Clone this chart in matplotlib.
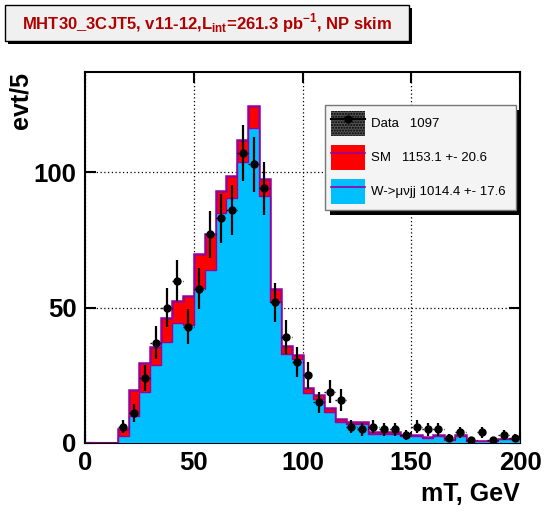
import numpy as np
import matplotlib
matplotlib.use("Agg")
import matplotlib.pyplot as plt
from matplotlib.patches import Rectangle, Patch
from matplotlib.lines import Line2D

# mT bins, 5 GeV wide, 0..200
edges = np.arange(0, 205, 5)

# stacked SM total (red) and W->munujj (blue), per bin starting at 0
sm = [0, 0, 0, 5.2, 19.4, 29.5, 35.3, 46.0, 52.5, 54.2, 69.9, 77.0, 93.0, 98.6,
      111.8, 124.4, 97.5, 56.8, 35.9, 32.6, 20.4, 17.7, 13.0, 9.0, 7.7, 7.9,
      4.0, 4.0, 4.0, 3.0, 3.0, 2.2, 3.0, 1.2, 3.0, 0.8, 0.8, 0.8, 1.5, 1.5]
wjets = [0, 0, 0, 2.6, 10.1, 18.8, 28.7, 37.3, 44.4, 43.7, 57.2, 63.8, 84.8, 90.5,
         103.9, 116.3, 91.1, 51.9, 32.8, 30.9, 18.6, 16.1, 11.6, 7.9, 6.9, 7.0,
         3.4, 3.4, 3.4, 2.7, 2.7, 1.9, 2.7, 1.0, 2.7, 0.6, 0.6, 0.6, 1.3, 1.3]

# data counts for bins 15..200
data_centers = np.arange(17.5, 200, 5)
data = [6, 11, 24, 37, 50, 60, 43, 57, 77, 83, 86, 107, 103, 94, 52, 39, 30, 25,
        15, 19, 16, 6, 5, 6, 5, 5, 3, 6, 5, 5, 2, 4, 1, 4, 1, 3, 2]

labels = ["Data   1097", "SM   1153.1 +- 20.6", "W->\u03bc\u03bdjj 1014.4 +- 17.6"]
title = r"MHT30_3CJT5, v11-12,L$_{\mathbf{int}}$=261.3 pb$^{\mathbf{-1}}$, NP skim"

purple = "#990099"
blue = "#00bfff"

plt.rcParams["font.family"] = "Liberation Sans"
plt.rcParams["mathtext.fontset"] = "custom"
plt.rcParams["mathtext.rm"] = "Liberation Sans"
plt.rcParams["mathtext.bf"] = "Liberation Sans:bold"

fig = plt.figure(figsize=(5.46, 5.16), dpi=100)
ax = fig.add_axes([85 / 546, 1 - 443 / 516, 435 / 546, 371 / 516])

ax.stairs(sm, edges, fill=True, color="red", zorder=2)
ax.stairs(sm, edges, color=purple, lw=1.8, zorder=3)
ax.stairs(wjets, edges, fill=True, color=blue, zorder=4)
ax.stairs(wjets, edges, color=purple, lw=1.0, zorder=5)

eb = ax.errorbar(data_centers, data, yerr=np.sqrt(data), xerr=2.5, fmt="o",
                 color="black", ms=5, elinewidth=1.6, zorder=6)
eb[2][0].set_linestyle((0, (1, 1.5)))
eb[2][0].set_linewidth(1.0)

ax.set_xlim(0, 200)
ax.set_ylim(0, 137)
ax.set_xticks([0, 50, 100, 150, 200])
ax.set_yticks([0, 50, 100])
ax.tick_params(direction="in", length=8, width=1.5, top=True, right=True,
               labelsize=18.5, pad=6)
for lab in ax.get_xticklabels() + ax.get_yticklabels():
    lab.set_fontweight("bold")
for sp in ax.spines.values():
    sp.set_linewidth(1.5)
ax.grid(True, linestyle=(0, (1, 2)), color="black", lw=0.9)
ax.set_axisbelow(True)

ax.set_ylabel("evt/5", loc="top", fontsize=18, fontweight="bold")
ax.yaxis.set_label_coords(-0.12, 1.0)
ax.set_xlabel("mT, GeV", loc="right", fontsize=18, fontweight="bold")
ax.xaxis.set_label_coords(1.0, -0.105)

handles = [
    (Patch(facecolor="#555555", hatch="......", edgecolor="black", lw=0),
     Line2D([], [], color="black", marker="o", ms=5, lw=1.5)),
    (Patch(facecolor="red", edgecolor="none"), Line2D([], [], color=purple, lw=1.2)),
    (Patch(facecolor=blue, edgecolor="none"), Line2D([], [], color=purple, lw=1.2)),
]
leg = ax.legend(handles, labels, loc="upper left", bbox_to_anchor=(0.5517, 0, 0.439, 0.911),
                mode="expand", borderaxespad=0, fontsize=9.5, numpoints=1,
                handlelength=2.6, handleheight=2.54, labelspacing=0.68, handletextpad=0.45,
                borderpad=0.45, fancybox=False, framealpha=1)
leg.get_frame().set_facecolor("#f4f4f4")
leg.get_frame().set_edgecolor("#777777")
leg.get_frame().set_linewidth(1.0)
leg.set_zorder(10)

fig.canvas.draw()
bb = leg.get_window_extent().transformed(ax.transAxes.inverted())
ax.add_patch(Rectangle((bb.x0 + 5 / 435, bb.y0 - 5 / 371), bb.width, bb.height,
                       transform=ax.transAxes, facecolor="black", edgecolor="none",
                       clip_on=False, zorder=9))

# title box with shadow
fig.add_artist(Rectangle((8 / 546, 1 - 44 / 516), 404 / 546, 36 / 516,
                         transform=fig.transFigure, facecolor="black", edgecolor="none"))
fig.add_artist(Rectangle((5 / 546, 1 - 41 / 516), 404 / 546, 36 / 516,
                         transform=fig.transFigure, facecolor="#f0f0f0",
                         edgecolor="black", lw=1.0))
fig.text(207 / 546, 1 - 23 / 516, title, ha="center", va="center", fontsize=12,
         fontweight="bold", color="#b00000")

fig.savefig("out.png", dpi=100)
